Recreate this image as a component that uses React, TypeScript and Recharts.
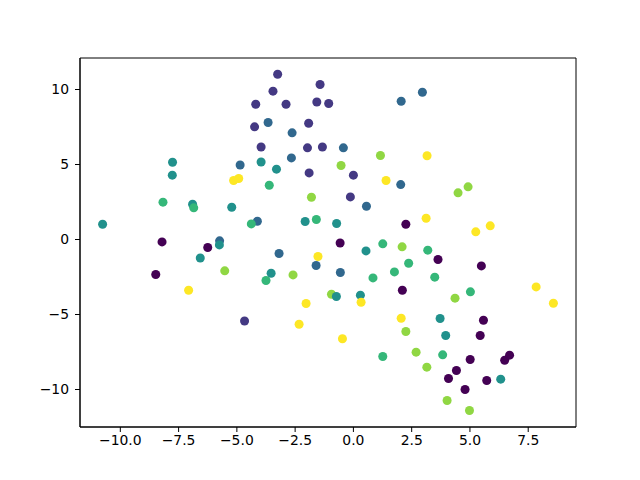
import React from 'react';
import { ScatterChart, Scatter, XAxis, YAxis, ZAxis, Cell, ReferenceArea } from 'recharts';

// point positions
const xVals = [
  -10.76, -3.25, -1.43, -3.45, -4.19, -2.89, -1.57, -1.06, -3.66, -4.24,
  -2.63, -1.92, -3.96, -1.97, -1.33, -2.66, -3.96, -4.86, -3.3, -1.9,
  -7.76, -7.77, -5.14, -4.92, -3.61, -1.8, -8.17, -6.9, -6.85, -5.22,
  -4.12, -4.38, -2.07, -1.59, -8.21, -6.25, -5.74, -5.75, 2.96, 2.05,
  -0.43, 1.16, 3.16, -0.53, 0.0, 1.4, 2.03, 4.49, 4.92, -0.13,
  0.56, 3.12, -0.72, 2.25, 5.25, 5.87, -6.57, -3.19, -1.52, -1.6,
  -8.48, -5.52, -3.53, -3.75, -2.59, -7.07, -2.03, -2.33, -4.67, -0.57,
  0.54, 1.26, 2.09, 3.19, 3.63, 5.49, -0.56, 2.37, 1.76, 0.84,
  3.49, 2.1, -0.94, -0.73, 0.3, 0.33, 4.36, 5.02, 7.84, 8.58,
  2.05, 3.72, 5.58, -0.47, 2.25, 3.96, 5.44, 1.26, 2.69, 3.83,
  5.01, 6.49, 6.7, 3.15, 4.42, 4.08, 5.72, 6.32, 4.79, 4.02, 4.98,
];
const yVals = [
  1.02, 11.02, 10.33, 9.89, 9.02, 9.02, 9.17, 9.07, 7.8, 7.51,
  7.11, 7.75, 6.17, 6.11, 6.17, 5.44, 5.17, 4.97, 4.69, 4.44,
  5.15, 4.29, 3.93, 4.07, 3.62, 2.82, 2.49, 2.35, 2.11, 2.15,
  1.22, 1.04, 1.2, 1.33, -0.16, -0.53, -0.09, -0.36, 9.82, 9.22,
  6.11, 5.6, 5.58, 4.93, 4.29, 3.93, 3.66, 3.11, 3.51, 2.84,
  2.22, 1.42, 1.07, 1.02, 0.51, 0.91, -1.23, -0.93, -1.13, -1.73,
  -2.33, -2.09, -2.25, -2.73, -2.36, -3.38, -4.27, -5.65, -5.43, -0.23,
  -0.76, -0.29, -0.49, -0.71, -1.33, -1.76, -2.2, -1.58, -2.16, -2.56,
  -2.51, -3.38, -3.65, -3.8, -3.71, -4.18, -3.91, -3.49, -3.16, -4.25,
  -5.25, -5.27, -5.38, -6.62, -6.13, -6.4, -6.4, -7.8, -7.51, -7.69,
  -8.0, -8.05, -7.71, -8.51, -8.73, -9.27, -9.4, -9.31, -10.0, -10.73, -11.4,
];
// colour level 0..6 along viridis
const levels = [
  3, 1, 1, 1, 1, 1, 1, 1, 2, 1,
  2, 1, 1, 1, 1, 2, 3, 2, 3, 1,
  3, 3, 6, 6, 4, 5, 4, 3, 4, 3,
  2, 4, 3, 4, 0, 0, 2, 3, 2, 2,
  2, 5, 6, 5, 1, 6, 2, 5, 5, 1,
  2, 6, 3, 0, 6, 6, 3, 2, 6, 2,
  0, 5, 3, 4, 5, 6, 6, 6, 1, 0,
  3, 4, 5, 4, 0, 0, 2, 4, 4, 4,
  4, 0, 5, 3, 3, 6, 5, 4, 6, 6,
  6, 3, 0, 6, 5, 3, 0, 4, 5, 4,
  0, 0, 0, 5, 0, 0, 0, 3, 0, 5, 5,
];

const viridis = ['#440154', '#443983', '#31688e', '#21918c', '#35b779', '#90d743', '#fde725'];
const xTicks = [-10, -7.5, -5, -2.5, 0, 2.5, 5, 7.5];
const yTicks = [-10, -5, 0, 5, 10];
const xDomain = [-11.73, 9.55];
const yDomain = [-12.5, 12.1];

const points = xVals.map((x, i) => ({ x, y: yVals[i], level: levels[i] }));

const fmtX = (v: number) => v.toFixed(1).replace('-', '\u2212');
const fmtY = (v: number) => String(v).replace('-', '\u2212');

const tickStyle = { fill: '#000', fontSize: 13.9, fontFamily: 'DejaVu Sans' };

export default function App() {
  return (
    <div style={{ position: 'absolute', left: 0, top: 0, width: 640, height: 480, background: '#fff' }}>
      <ScatterChart width={640} height={480} margin={{ top: 58, right: 64, bottom: 23, left: 30 }}>
        <XAxis
          type="number"
          dataKey="x"
          domain={xDomain}
          ticks={xTicks}
          tickFormatter={fmtX}
          allowDataOverflow
          height={30}
          tickSize={5}
          tickMargin={3}
          tick={tickStyle}
          stroke="#000"
          tickLine={{ stroke: '#000' }}
        />
        <YAxis
          type="number"
          dataKey="y"
          domain={yDomain}
          ticks={yTicks}
          tickFormatter={fmtY}
          allowDataOverflow
          width={50}
          tickSize={5}
          tickMargin={6}
          tick={tickStyle}
          stroke="#000"
          tickLine={{ stroke: '#000' }}
        />
        <ZAxis range={[64, 64]} />
        <ReferenceArea
          x1={xDomain[0]}
          x2={xDomain[1]}
          y1={yDomain[0]}
          y2={yDomain[1]}
          fill="none"
          fillOpacity={0}
          stroke="#000"
          strokeWidth={1}
        />
        <Scatter data={points} isAnimationActive={false}>
          {points.map((p, i) => (
            <Cell key={i} fill={viridis[p.level]} />
          ))}
        </Scatter>
      </ScatterChart>
    </div>
  );
}
